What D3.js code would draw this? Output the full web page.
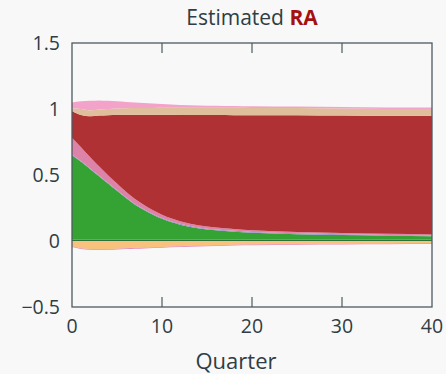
<!DOCTYPE html>
<html>
<head>
<meta charset="utf-8">
<script src="https://cdn.jsdelivr.net/npm/d3@7"></script>
<style>
  html, body { margin: 0; padding: 0; background: #f8f8f8; }
  svg { display: block; }
  text { font-family: "Open Sans", "Noto Sans", sans-serif; fill: #2f3d44; }
</style>
</head>
<body>
<svg id="chart" width="446" height="374"></svg>
<script>
// Horizon (quarters) at which the decomposition is tabulated
const quarters = [0, 1, 2, 3, 4, 5, 6, 7, 8, 9, 10, 12, 14, 16, 18, 20, 25, 30, 35, 40];

// Contributions of each shock to the variance of RA (stacked from zero)
const darkGreen = [0.012, 0.012, 0.012, 0.012, 0.012, 0.012, 0.012, 0.012, 0.012, 0.012, 0.012, 0.012, 0.012, 0.012, 0.012, 0.012, 0.012, 0.012, 0.012, 0.012];
const green     = [0.638, 0.588, 0.533, 0.478, 0.423, 0.368, 0.313, 0.263, 0.223, 0.187, 0.156, 0.112, 0.085, 0.069, 0.059, 0.051, 0.040, 0.033, 0.028, 0.024];
const purple    = [0.006, 0.006, 0.006, 0.006, 0.006, 0.006, 0.006, 0.006, 0.006, 0.006, 0.006, 0.006, 0.006, 0.006, 0.006, 0.006, 0.006, 0.006, 0.006, 0.006];
const pinkLow   = [0.125, 0.105, 0.085, 0.070, 0.058, 0.050, 0.043, 0.037, 0.032, 0.028, 0.025, 0.020, 0.017, 0.015, 0.013, 0.012, 0.010, 0.009, 0.008, 0.008];
const red       = [0.204, 0.244, 0.309, 0.384, 0.454, 0.520, 0.583, 0.639, 0.683, 0.723, 0.757, 0.805, 0.834, 0.852, 0.863, 0.872, 0.885, 0.890, 0.894, 0.898];
const tan       = [0.020, 0.045, 0.045, 0.047, 0.047, 0.048, 0.049, 0.050, 0.051, 0.052, 0.054, 0.054, 0.055, 0.056, 0.056, 0.055, 0.054, 0.053, 0.052, 0.052];
const pinkTop   = [0.045, 0.058, 0.072, 0.068, 0.062, 0.054, 0.047, 0.043, 0.039, 0.034, 0.028, 0.022, 0.018, 0.015, 0.013, 0.012, 0.011, 0.012, 0.011, 0.012];
// Negative contributions (stacked below zero)
const orange    = [-0.040, -0.055, -0.060, -0.062, -0.060, -0.058, -0.055, -0.052, -0.050, -0.047, -0.045, -0.040, -0.035, -0.032, -0.029, -0.027, -0.022, -0.020, -0.018, -0.017];
const pinkNeg   = [-0.006, -0.006, -0.006, -0.006, -0.006, -0.006, -0.006, -0.006, -0.006, -0.006, -0.006, -0.006, -0.006, -0.006, -0.006, -0.006, -0.006, -0.006, -0.006, -0.006];

const xTicks = [0, 10, 20, 30, 40];
const yTicks = [-0.5, 0, 0.5, 1, 1.5];

const series = [
  { key: "darkGreen", values: darkGreen, color: "#2f6f3a" },
  { key: "green",     values: green,     color: "#34a334" },
  { key: "purple",    values: purple,    color: "#8f8fc4" },
  { key: "pinkLow",   values: pinkLow,   color: "#dd82a8" },
  { key: "red",       values: red,       color: "#b03133" },
  { key: "tan",       values: tan,       color: "#dfbe9b" },
  { key: "pinkTop",   values: pinkTop,   color: "#f3a2c9" },
  { key: "orange",    values: orange,    color: "#f8c27c" },
  { key: "pinkNeg",   values: pinkNeg,   color: "#e98bb2" }
];

const rows = quarters.map((q, i) => {
  const r = { q };
  series.forEach(s => { r[s.key] = s.values[i]; });
  return r;
});

const margin = { top: 43, right: 14, bottom: 67, left: 72 };
const width = 446, height = 374;
const svg = d3.select("#chart");

const x = d3.scaleLinear().domain([0, 40]).range([margin.left, width - margin.right]);
const y = d3.scaleLinear().domain([-0.5, 1.5]).range([height - margin.bottom, margin.top]);

const stacked = d3.stack()
  .keys(series.map(s => s.key))
  .offset(d3.stackOffsetDiverging)(rows);

const area = d3.area()
  .x(d => x(d.data.q))
  .y0(d => y(d[0]))
  .y1(d => y(d[1]))
  .curve(d3.curveMonotoneX);

const frameColor = "#4c5a61";

// Inner tick marks (drawn beneath the areas)
const tickLen = 10;
const ticksG = svg.append("g").attr("stroke", frameColor).attr("stroke-width", 1.2);
xTicks.slice(1, -1).forEach(t => {
  ticksG.append("line").attr("x1", x(t)).attr("x2", x(t)).attr("y1", y(1.5)).attr("y2", y(1.5) + tickLen);
  ticksG.append("line").attr("x1", x(t)).attr("x2", x(t)).attr("y1", y(-0.5)).attr("y2", y(-0.5) - tickLen);
});

svg.append("g").selectAll("path")
  .data(stacked)
  .join("path")
  .attr("fill", (d, i) => series[i].color)
  .attr("d", area);

// Plot frame
svg.append("rect")
  .attr("x", x(0)).attr("y", y(1.5))
  .attr("width", x(40) - x(0)).attr("height", y(-0.5) - y(1.5))
  .attr("fill", "none").attr("stroke", frameColor).attr("stroke-width", 1.3);

// Axis labels
const fmtY = v => (v < 0 ? "\u2212" : "") + d3.format("")(Math.abs(v));
svg.append("g").selectAll("text")
  .data(yTicks)
  .join("text")
  .attr("x", margin.left - 12)
  .attr("y", d => y(d) + 7)
  .attr("text-anchor", "end")
  .attr("font-size", 19.5)
  .text(fmtY);

svg.append("g").selectAll("text")
  .data(xTicks)
  .join("text")
  .attr("x", d => x(d))
  .attr("y", y(-0.5) + 26)
  .attr("text-anchor", "middle")
  .attr("font-size", 19.5)
  .text(d => d);

svg.append("text")
  .attr("x", 236)
  .attr("y", 369)
  .attr("text-anchor", "middle")
  .attr("font-size", 22)
  .text("Quarter");

const title = svg.append("text")
  .attr("x", (x(0) + x(40)) / 2)
  .attr("y", 25)
  .attr("text-anchor", "middle")
  .attr("font-size", 21);
title.append("tspan").text("Estimated ");
title.append("tspan").attr("font-weight", "bold").style("fill", "#a50f0f").text("RA");
</script>
</body>
</html>
